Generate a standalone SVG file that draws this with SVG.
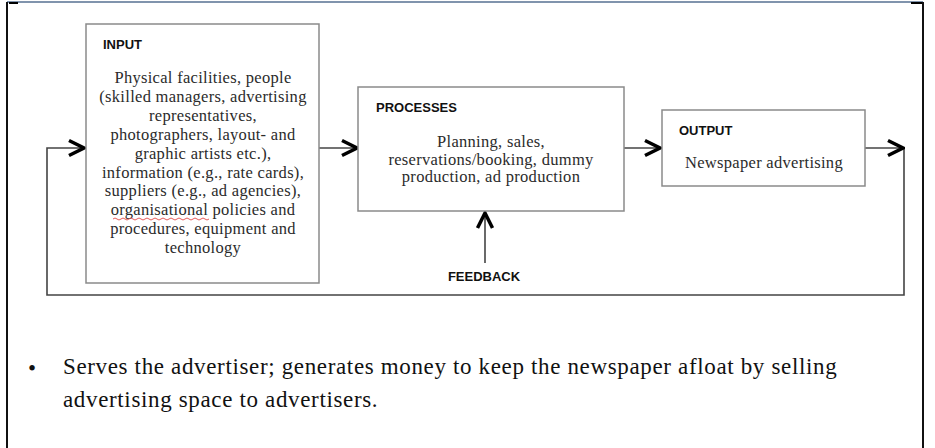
<svg xmlns="http://www.w3.org/2000/svg" width="935" height="448" viewBox="0 0 935 448">
<style>
.box{fill:#fff;stroke:#8a8a8a;stroke-width:1.5}
.lbl{font-family:"Liberation Sans",Arial,sans-serif;font-weight:bold;font-size:13px;fill:#111}
.body{font-family:"Liberation Serif","Times New Roman",serif;font-size:16.5px;letter-spacing:0.3px;fill:#2b2b2b;text-anchor:middle}
.conn{fill:none;stroke:#444;stroke-width:1.6}
.bul{font-family:"Liberation Serif","Times New Roman",serif;font-size:23px;letter-spacing:0.65px;fill:#111}
</style>
<defs>
<marker id="chev" viewBox="0 0 20 20" refX="18" refY="10" markerWidth="20" markerHeight="20" orient="auto" markerUnits="userSpaceOnUse">
<path d="M3 2.5 L18 10 L3 17.5" fill="none" stroke="#000" stroke-width="3.5" stroke-linejoin="miter"/>
</marker>
</defs>
<rect width="935" height="448" fill="#fff"/>
<g id="frame">
<line x1="7" y1="2" x2="923" y2="2" stroke="#8094ad" stroke-width="2"/>
<line x1="9" y1="3" x2="18" y2="3" stroke="#000" stroke-width="2"/>
<line x1="911" y1="3" x2="923" y2="3" stroke="#000" stroke-width="2"/>
<line x1="7" y1="2" x2="7" y2="448" stroke="#111" stroke-width="2"/>
<line x1="923" y1="2" x2="923" y2="448" stroke="#111" stroke-width="2"/>
</g>
<g id="connectors">
<path class="conn" d="M904 148 V295 H47 V148 H84" marker-end="url(#chev)"/>
<path class="conn" d="M865 148 H903" marker-end="url(#chev)"/>
<path class="conn" d="M319 148 H357" marker-end="url(#chev)"/>
<path class="conn" d="M624 148 H660" marker-end="url(#chev)"/>
<path class="conn" d="M485 263 V213" marker-end="url(#chev)"/>
</g>
<g id="input">
<rect class="box" x="86" y="24" width="233" height="259"/>
<text class="lbl" x="103" y="49">INPUT</text>
<text class="body" x="203" y="83">Physical facilities, people</text>
<text class="body" x="203" y="101.9">(skilled managers, advertising</text>
<text class="body" x="203" y="120.8">representatives,</text>
<text class="body" x="203" y="139.7">photographers, layout- and</text>
<text class="body" x="203" y="158.6">graphic artists etc.),</text>
<text class="body" x="203" y="177.5">information (e.g., rate cards),</text>
<text class="body" x="203" y="196.4">suppliers (e.g., ad agencies),</text>
<text class="body" x="203" y="215.3">organisational policies and</text>
<text class="body" x="203" y="234.2">procedures, equipment and</text>
<text class="body" x="203" y="253.1">technology</text>
<path d="M113 219 q2 -2 4 0 t4 0 t4 0 t4 0 t4 0 t4 0 t4 0 t4 0 t4 0 t4 0 t4 0 t4 0 t4 0 t4 0 t4 0 t4 0 t4 0 t4 0 t4 0 t4 0 t4 0 t4 0 t4 0 t4 0" fill="none" stroke="#e03030" stroke-width="0.8"/>
</g>
<g id="processes">
<rect class="box" x="358" y="87" width="266" height="124"/>
<text class="lbl" x="376" y="112">PROCESSES</text>
<text class="body" x="491" y="147">Planning, sales,</text>
<text class="body" x="491" y="164.5">reservations/booking, dummy</text>
<text class="body" x="491" y="182">production, ad production</text>
</g>
<g id="output">
<rect class="box" x="662" y="110" width="203" height="76"/>
<text class="lbl" x="679" y="135">OUTPUT</text>
<text class="body" x="764" y="168">Newspaper advertising</text>
</g>
<g id="feedback">
<text class="lbl" x="484" y="281" text-anchor="middle">FEEDBACK</text>
</g>
<g id="note">
<text class="bul" x="28" y="376" font-size="30">•</text>
<text class="bul" x="63" y="374">Serves the advertiser; generates money to keep the newspaper afloat by selling</text>
<text class="bul" x="63" y="407">advertising space to advertisers.</text>
</g>
</svg>
